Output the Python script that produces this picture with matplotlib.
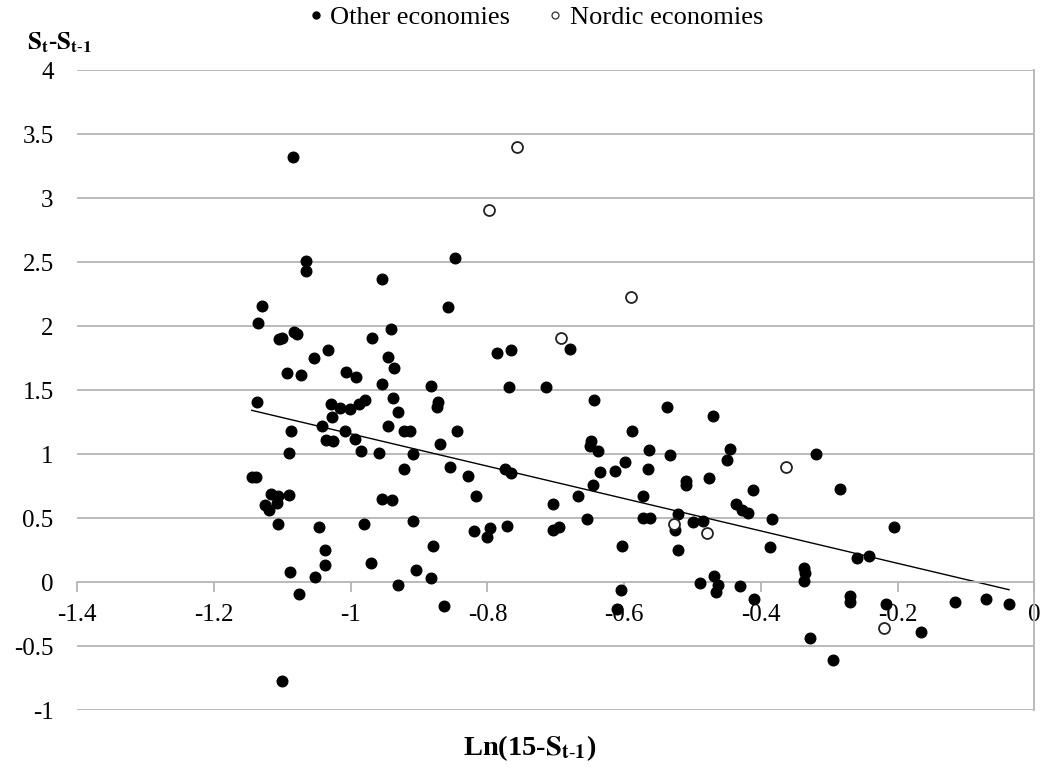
import matplotlib
matplotlib.use('Agg')
import matplotlib.pyplot as plt
from matplotlib.lines import Line2D
import numpy as np

# Ln(15 - S_{t-1}) and S_t - S_{t-1}
other_x = [-1.084, -1.065, -1.066, -0.954, -0.848, -1.130, -1.135, -0.858, -0.941, -0.969,
           -1.105, -1.100, -1.083, -1.078, -1.033, -1.054, -0.945, -0.937, -1.093, -1.073,
           -1.007, -0.992, -0.955, -0.883, -1.137, -1.029, -1.016, -1.001, -0.988, -0.979,
           -0.938, -0.931, -0.873, -0.874, -1.027, -1.087, -1.042, -1.008, -0.945, -0.922,
           -0.913, -0.844, -1.036, -1.026, -0.994, -0.870, -1.090, -0.985, -0.959, -0.909,
           -0.922, -0.855, -0.829, -1.145, -1.139, -1.117, -1.107, -1.108, -1.091, -1.126,
           -1.119, -0.955, -0.939, -0.817, -1.106, -1.047, -0.981, -0.909, -0.820, -1.037,
           -0.880, -1.038, -1.089, -0.971, -1.052, -0.905, -0.883, -0.931, -1.075, -0.863,
           -1.100, -0.786, -0.765, -0.679, -0.769, -0.715, -0.644, -0.538, -0.470, -0.588,
           -0.649, -0.650, -0.638, -0.563, -0.533, -0.445, -0.449, -0.774, -0.765, -0.635,
           -0.613, -0.599, -0.565, -0.646, -0.509, -0.509, -0.476, -0.667, -0.704, -0.572,
           -0.436, -0.428, -0.419, -0.654, -0.572, -0.562, -0.522, -0.525, -0.499, -0.485,
           -0.704, -0.696, -0.772, -0.796, -0.800, -0.603, -0.522, -0.469, -0.489, -0.463,
           -0.466, -0.431, -0.604, -0.610, -0.319, -0.411, -0.285, -0.384, -0.206, -0.387,
           -0.260, -0.242, -0.337, -0.336, -0.337, -0.410, -0.269, -0.269, -0.217, -0.116,
           -0.071, -0.037, -0.166, -0.328, -0.294]
other_y = [3.32, 2.51, 2.43, 2.37, 2.53, 2.16, 2.02, 2.15, 1.98, 1.91,
           1.90, 1.91, 1.95, 1.94, 1.81, 1.75, 1.76, 1.67, 1.63, 1.62,
           1.64, 1.60, 1.55, 1.53, 1.41, 1.39, 1.36, 1.35, 1.39, 1.42,
           1.44, 1.33, 1.41, 1.37, 1.29, 1.18, 1.22, 1.18, 1.22, 1.18,
           1.18, 1.18, 1.11, 1.10, 1.12, 1.08, 1.01, 1.02, 1.01, 1.00,
           0.88, 0.90, 0.83, 0.82, 0.82, 0.69, 0.67, 0.62, 0.68, 0.60,
           0.56, 0.65, 0.64, 0.67, 0.45, 0.43, 0.45, 0.48, 0.40, 0.25,
           0.28, 0.13, 0.08, 0.15, 0.04, 0.09, 0.03, -0.02, -0.09, -0.19,
           -0.77, 1.79, 1.81, 1.82, 1.52, 1.52, 1.42, 1.37, 1.30, 1.18,
           1.10, 1.06, 1.02, 1.03, 0.99, 1.04, 0.95, 0.88, 0.85, 0.86,
           0.87, 0.94, 0.88, 0.76, 0.79, 0.76, 0.81, 0.67, 0.61, 0.67,
           0.61, 0.56, 0.54, 0.49, 0.50, 0.50, 0.53, 0.41, 0.47, 0.48,
           0.41, 0.43, 0.44, 0.42, 0.35, 0.28, 0.25, 0.05, -0.01, -0.02,
           -0.08, -0.03, -0.06, -0.21, 1.00, 0.72, 0.73, 0.49, 0.43, 0.27,
           0.19, 0.20, 0.11, 0.07, 0.01, -0.13, -0.11, -0.16, -0.17, -0.16,
           -0.13, -0.17, -0.39, -0.44, -0.61]

nordic_x = [-0.757, -0.798, -0.590, -0.693, -0.527, -0.479, -0.363, -0.220]
nordic_y = [3.40, 2.91, 2.23, 1.91, 0.45, 0.38, 0.90, -0.36]

# linear trend line shown on the chart
trend_slope = -1.265
trend_intercept = -0.107

x_ticks = [-1.4, -1.2, -1.0, -0.8, -0.6, -0.4, -0.2, 0.0]
y_ticks = [-1, -0.5, 0, 0.5, 1, 1.5, 2, 2.5, 3, 3.5, 4]

plt.rcParams['font.family'] = ['Liberation Serif', 'DejaVu Serif']
plt.rcParams['mathtext.fontset'] = 'stix'
plt.rcParams['axes.unicode_minus'] = False

fig = plt.figure(figsize=(10.45, 7.71), dpi=100)
ax = fig.add_axes([0.074, 0.0791, 0.9158, 0.8301])

grid_col = '#b4b4b4'
for yv in y_ticks:
    if yv != 0:
        ax.axhline(yv, color=grid_col, lw=1.3, zorder=0)

ax.scatter(other_x, other_y, s=58, color='black', zorder=3)
ax.scatter(nordic_x, nordic_y, s=62, facecolor='white', edgecolor='#222222',
           linewidth=1.3, zorder=3)

tx = np.array([min(other_x + nordic_x), max(other_x + nordic_x)])
ax.plot(tx, trend_intercept + trend_slope * tx, color='black', lw=1.0, zorder=2)

ax.set_xlim(-1.4, 0)
ax.set_ylim(-1, 4)

for side in ['top', 'left']:
    ax.spines[side].set_visible(False)
ax.spines['bottom'].set_position(('data', 0))
ax.spines['bottom'].set_color(grid_col)
ax.spines['bottom'].set_linewidth(1.3)
ax.spines['right'].set_color(grid_col)
ax.spines['right'].set_linewidth(1.3)

ax.set_xticks(x_ticks)
ax.set_xticklabels(['%g' % v for v in x_ticks])
ax.set_yticks(y_ticks)
ax.set_yticklabels(['%g' % v for v in y_ticks])
ax.tick_params(axis='x', direction='out', length=7, width=1.3, color=grid_col,
               labelsize=18, pad=9)
ax.tick_params(axis='y', length=0, labelsize=18, pad=17)

fig.text(0.026, 0.944, r'$\mathbf{S_t}$' + '-' + r'$\mathbf{S_{t\text{-}1}}$', fontsize=18,
         fontweight='bold', ha='left', va='center')
fig.text(0.507, 0.03, 'Ln(15-' + r'$\mathbf{S_{t\text{-}1}}$' + ')', fontsize=20.5,
         fontweight='bold', ha='center', va='center')

handles = [Line2D([], [], ls='', marker='o', ms=5, color='black'),
           Line2D([], [], ls='', marker='o', ms=5, mfc='white', mec='#333333', mew=0.9)]
fig.legend(handles, ['Other economies', 'Nordic economies'], loc='center',
           bbox_to_anchor=(0.51, 0.977), ncol=2, frameon=False, fontsize=19,
           handletextpad=0.05, columnspacing=1.2, handlelength=1.0)

fig.savefig('out.png', dpi=100)
